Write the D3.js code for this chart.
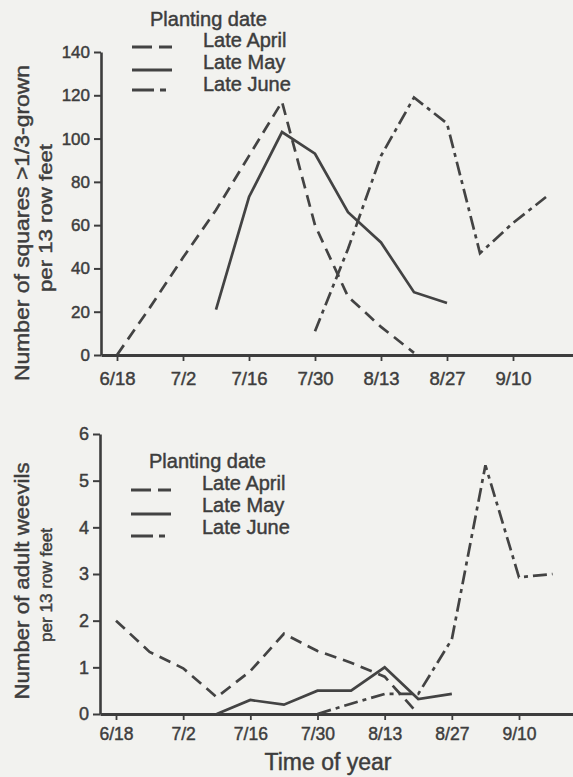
<!DOCTYPE html>
<html>
<head>
<meta charset="utf-8">
<script src="https://cdn.jsdelivr.net/npm/d3@7"></script>
<style>
  html, body { margin: 0; padding: 0; background: #f2f2ef; }
  svg { display: block; font-family: "Liberation Sans", Arial, Helvetica, sans-serif; }
  svg text { stroke: #3d3d3d; stroke-width: 0.45px; }
</style>
</head>
<body>
<svg id="chart" width="573" height="777"></svg>
<script>
// Weekly sampling dates (month/day)
const sampleDates = ["6/18","6/25","7/2","7/9","7/16","7/23","7/30","8/6","8/13","8/20","8/27","9/3","9/10","9/17"];
const tickDates = ["6/18","7/2","7/16","7/30","8/13","8/27","9/10"];
const seriesNames = ["Late April", "Late May", "Late June"];

// Number of squares >1/3-grown per 13 row feet
const squaresLateApril = [0, 22, 45, 67, 92, 117, 60, 27, 13, 1, null, null, null, null];
const squaresLateMay   = [null, null, null, 21, 73, 103, 93, 66, 52, 29, 24, null, null, null];
const squaresLateJune  = [null, null, null, null, null, null, 11, 49, 92, 119, 107, 47, 61, 73];
const squaresTicks = [0, 20, 40, 60, 80, 100, 120, 140];

// Number of adult weevils per 13 row feet
const weevilsLateApril = [2.0, 1.33, 0.98, 0.36, 0.92, 1.72, 1.35, 1.1, 0.8, 0, null, null, null, null];
const weevilsLateMay   = [null, null, null, 0, 0.3, 0.2, 0.5, 0.5, 1.0, 0.32, 0.43, null, null, null];
const weevilsLateJune  = [null, null, null, null, null, null, 0, 0.22, 0.43, 0.43, 1.6, 5.33, 2.93, 3.0];
const weevilTicks = [0, 1, 2, 3, 4, 5, 6];

const ink = "#3d3d3d";
const lineInk = "#434343";
const dashStyles = ["12,7", null, "14,5,4,5"];
const legendDash = ["20,7", null, "22,6,6,12"];

const parseDay = s => d3.timeParse("%m/%d/%Y")(s + "/2000");
const fmtDay = d3.timeFormat("%-m/%-d");

const svg = d3.select("#chart");

function drawPanel(cfg) {
  const g = svg.append("g");

  // x scale anchored on the 6/18 and 9/10 ticks, then stretched to the axis ends
  const x = d3.scaleTime()
    .domain([parseDay("6/18"), parseDay("9/10")])
    .range([cfg.x618, cfg.x910]);
  x.domain([x.invert(cfg.left), x.invert(cfg.right)]).range([cfg.left, cfg.right]);

  const y = d3.scaleLinear().domain([0, cfg.yMax]).range([cfg.bottom, cfg.top]);

  // y axis
  const ya = g.append("g")
    .attr("transform", `translate(${cfg.left},0)`)
    .call(d3.axisLeft(y).tickValues(cfg.yTicks).tickFormat(d3.format("d"))
      .tickSize(7).tickSizeOuter(0).tickPadding(4));
  ya.select(".domain").attr("stroke", ink).attr("stroke-width", 2.6);
  ya.selectAll(".tick line").attr("stroke", ink).attr("stroke-width", 2);
  ya.selectAll(".tick text")
    .attr("fill", ink).attr("font-size", cfg.yTickFont).attr("font-family", null);

  // x axis
  const xa = g.append("g")
    .attr("transform", `translate(0,${cfg.bottom})`)
    .call(d3.axisBottom(x).tickValues(tickDates.map(parseDay)).tickFormat(fmtDay)
      .tickSize(6).tickSizeOuter(0).tickPadding(cfg.xPad));
  xa.select(".domain").attr("stroke", ink).attr("stroke-width", 3);
  xa.selectAll(".tick line").attr("stroke", ink).attr("stroke-width", 1.8);
  xa.selectAll(".tick text")
    .attr("fill", ink).attr("font-size", cfg.xTickFont).attr("font-family", null);
  g.selectAll(".domain").attr("fill", "none");

  // series lines
  const line = d3.line()
    .defined(d => d.v !== null)
    .x(d => x(d.date))
    .y(d => y(d.v));

  cfg.series.forEach((vals, i) => {
    const pts = sampleDates.map((s, k) => ({ date: parseDay(s), v: vals[k] }));
    g.append("path")
      .datum(pts)
      .attr("d", line)
      .attr("fill", "none")
      .attr("stroke", lineInk)
      .attr("stroke-width", 2.7)
      .attr("stroke-linejoin", "miter")
      .attr("stroke-dasharray", dashStyles[i]);
  });

  // y axis title (two lines)
  cfg.yTitle.forEach(t => {
    g.append("text")
      .attr("transform", `translate(${t.x},${t.cy}) rotate(-90)`)
      .attr("text-anchor", "middle")
      .attr("font-size", t.size)
      .attr("textLength", t.len)
      .attr("lengthAdjust", "spacingAndGlyphs")
      .attr("fill", ink)
      .text(t.text);
  });

  // legend
  const lg = g.append("g");
  lg.append("text")
    .attr("x", cfg.legend.titleX).attr("y", cfg.legend.titleY)
    .attr("font-size", 20).attr("fill", ink)
    .text("Planting date");
  seriesNames.forEach((name, i) => {
    const by = cfg.legend.rowY[i];
    lg.append("text")
      .attr("x", cfg.legend.textX).attr("y", by)
      .attr("font-size", 20).attr("fill", ink)
      .text(name);
    lg.append("line")
      .attr("x1", cfg.legend.lineX0).attr("x2", cfg.legend.lineX1)
      .attr("y1", cfg.legend.lineY[i]).attr("y2", cfg.legend.lineY[i])
      .attr("stroke", lineInk).attr("stroke-width", 2.8)
      .attr("stroke-dasharray", legendDash[i]);
  });
}

drawPanel({
  left: 101, right: 573, x618: 117, x910: 513,
  top: 52, bottom: 355, yMax: 140, yTicks: squaresTicks,
  yTickFont: 17, xTickFont: 18.5, xPad: 11,
  series: [squaresLateApril, squaresLateMay, squaresLateJune],
  yTitle: [
    { text: "Number of squares >1/3-grown", x: 29, cy: 223, size: 21, len: 316 },
    { text: "per 13 row feet", x: 52, cy: 218, size: 19, len: 148 }
  ],
  legend: { titleX: 150, titleY: 26, textX: 203, rowY: [47, 69, 91],
            lineX0: 132, lineX1: 172, lineY: [47, 70, 90] }
});

drawPanel({
  left: 100, right: 573, x618: 116, x910: 519,
  top: 434, bottom: 714, yMax: 6, yTicks: weevilTicks,
  yTickFont: 18, xTickFont: 17.5, xPad: 8,
  series: [weevilsLateApril, weevilsLateMay, weevilsLateJune],
  yTitle: [
    { text: "Number of adult weevils", x: 29, cy: 581, size: 21, len: 237 },
    { text: "per 13 row feet", x: 52, cy: 585, size: 17, len: 114 }
  ],
  legend: { titleX: 149, titleY: 468, textX: 202, rowY: [490, 512, 534],
            lineX0: 131, lineX1: 171, lineY: [490, 514, 536] }
});

// shared x axis title
svg.append("text")
  .attr("x", 328).attr("y", 770)
  .attr("text-anchor", "middle")
  .attr("font-size", 23)
  .attr("fill", ink)
  .text("Time of year");
</script>
</body>
</html>
